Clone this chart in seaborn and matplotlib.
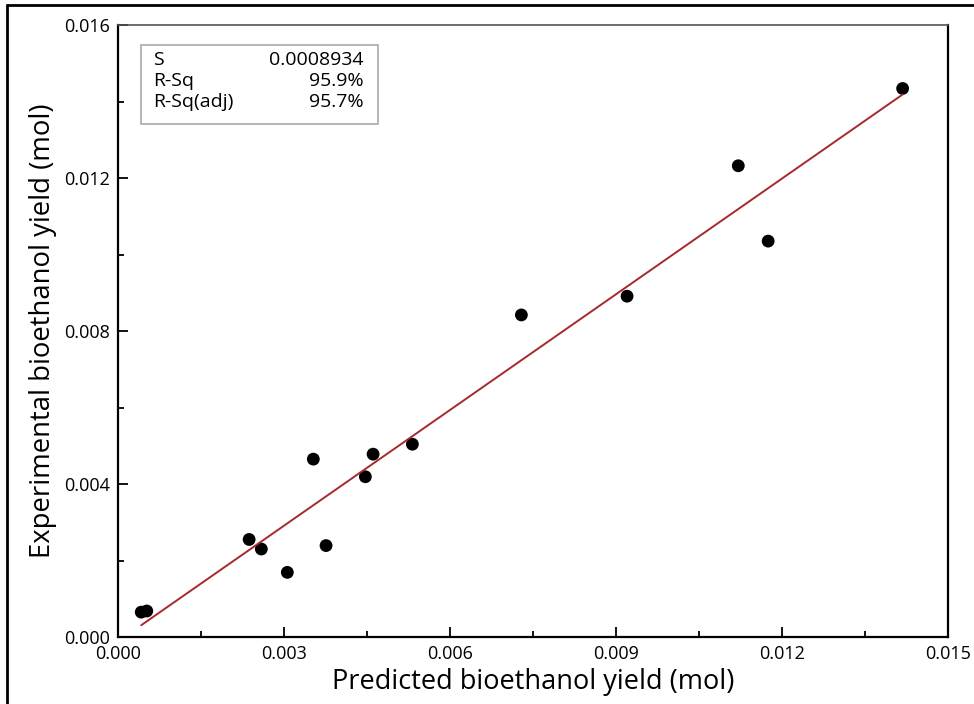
import numpy as np
import pandas as pd
import matplotlib
matplotlib.use("Agg")
import matplotlib.pyplot as plt
import seaborn as sns
from matplotlib.lines import Line2D
from matplotlib.ticker import MultipleLocator, FormatStrFormatter

# predicted vs experimental yield (mol)
predicted = [0.00042, 0.00052, 0.00237, 0.00259, 0.00306, 0.00353, 0.00376,
             0.00447, 0.00461, 0.00532, 0.00729, 0.00920, 0.01121, 0.01175, 0.01418]
experimental = [0.00065, 0.00068, 0.00255, 0.00230, 0.00169, 0.00465, 0.00239,
                0.00419, 0.00478, 0.00504, 0.00842, 0.00891, 0.01232, 0.01035, 0.01434]
stat_names = ["S", "R-Sq", "R-Sq(adj)"]
stat_values = ["0.0008934", "95.9%", "95.7%"]

data = pd.DataFrame({"Predicted": predicted, "Experimental": experimental})

sns.set_style("white")
plt.rcParams["font.family"] = ["Open Sans", "DejaVu Sans"]
plt.rcParams["text.color"] = "black"
plt.rcParams["axes.labelcolor"] = "black"
plt.rcParams["xtick.color"] = "black"
plt.rcParams["ytick.color"] = "black"

fig = plt.figure(figsize=(9.74, 7.04), dpi=100)
ax = fig.add_axes([118 / 974, 1 - 637 / 704, (948 - 118) / 974, (637 - 25) / 704])

sns.regplot(x="Predicted", y="Experimental", data=data, ci=None, ax=ax,
            scatter_kws={"color": "black", "s": 85, "edgecolor": "none", "alpha": 1},
            line_kws={"color": "#A52A2A", "lw": 1.4})

ax.set_xlim(0, 0.015)
ax.set_ylim(0, 0.016)
ax.xaxis.set_major_locator(MultipleLocator(0.003))
ax.xaxis.set_minor_locator(MultipleLocator(0.0015))
ax.yaxis.set_major_locator(MultipleLocator(0.004))
ax.yaxis.set_minor_locator(MultipleLocator(0.002))
ax.xaxis.set_major_formatter(FormatStrFormatter("%.3f"))
ax.yaxis.set_major_formatter(FormatStrFormatter("%.3f"))
ax.tick_params(which="both", direction="in", labelsize=13, color="black",
               bottom=True, left=True, top=False, right=False)
ax.tick_params(which="major", length=7, width=1.3, pad=6)
ax.tick_params(which="minor", length=4, width=1.3)

for side in ["left", "right", "bottom"]:
    ax.spines[side].set_color("black")
    ax.spines[side].set_linewidth(1.6)
ax.spines["top"].set_color("#555555")
ax.spines["top"].set_linewidth(1.2)

ax.set_xlabel("Predicted bioethanol yield (mol)", fontsize=19.5, labelpad=3)
ax.set_ylabel("Experimental bioethanol yield (mol)", fontsize=19.8, labelpad=5)

# summary box
box_x0, box_y0 = 141 / 974, 1 - 124 / 704
fig.patches.append(plt.Rectangle((box_x0, box_y0), (378 - 141) / 974, (124 - 45) / 704,
                                 transform=fig.transFigure, fill=False,
                                 edgecolor="#aaaaaa", lw=1.2))
for i, (name, val) in enumerate(zip(stat_names, stat_values)):
    yy = 1 - (60 + i * 21) / 704
    fig.text(153 / 974, yy, name, fontsize=14, va="center", ha="left")
    fig.text(364 / 974, yy, val, fontsize=14, va="center", ha="right")

# outer frame (top and left edges visible)
fig.add_artist(Line2D([7 / 974, 1], [1 - 5 / 704, 1 - 5 / 704], color="black", lw=2))
fig.add_artist(Line2D([7 / 974, 7 / 974], [0, 1 - 5 / 704], color="black", lw=2))

plt.savefig("out.png", dpi=100)
